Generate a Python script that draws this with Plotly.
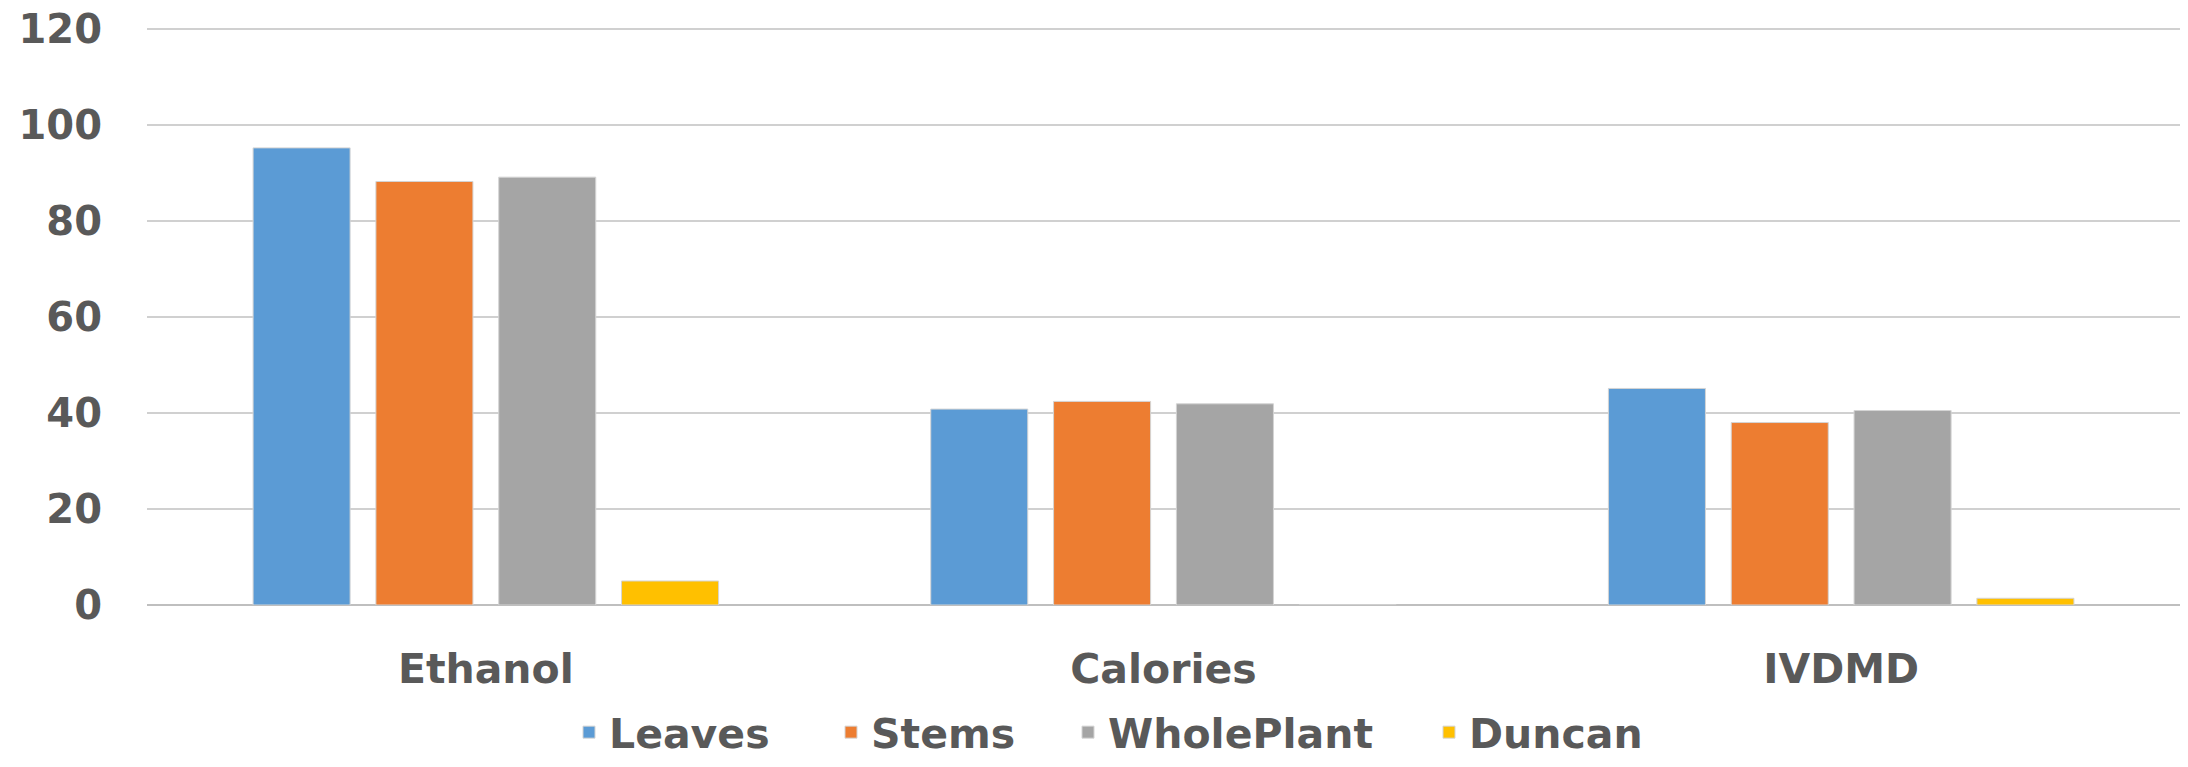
import plotly.graph_objects as go

# Category groups and per-series values
categories = ["Ethanol", "Calories", "IVDMD"]
leaves = [95.2, 40.8, 45.1]
stems = [88.2, 42.4, 38.0]
whole_plant = [89.1, 41.9, 40.5]
duncan = [5.0, 0.0, 1.4]

series = [
    ("Leaves", leaves, "#5B9BD5"),
    ("Stems", stems, "#ED7D31"),
    ("WholePlant", whole_plant, "#A5A5A5"),
    ("Duncan", duncan, "#FFC000"),
]

y_ticks = [0, 20, 40, 60, 80, 100, 120]

FONT = "DejaVu Sans"
TEXT = "#595959"

W, H = 2188, 767
M_L, M_R, M_T, M_B = 147, 8, 24, 162
plot_w = W - M_L - M_R
plot_h = H - M_T - M_B

# one legend per series so each entry sits at its own spot along the bottom row
entry_text_left = [610, 872, 1109, 1470]
legend_names = ["legend", "legend2", "legend3", "legend4"]
legend_bottom_y = (H - M_B - (H - 1)) / plot_h

fig = go.Figure()
for (name, vals, color), lg in zip(series, legend_names):
    fig.add_trace(go.Bar(
        name=name,
        x=categories,
        y=vals,
        legend=lg,
        marker=dict(color=color, line=dict(color="#d4d4d4", width=1)),
    ))

legend_style = dict(
    orientation="h",
    xanchor="left",
    yanchor="bottom",
    bgcolor="rgba(0,0,0,0)",
    font=dict(family=FONT, size=41, color=TEXT, weight="bold"),
    itemclick=False,
    itemdoubleclick=False,
)
legends = {}
for lg, tx in zip(legend_names, entry_text_left):
    legends[lg] = dict(legend_style, x=(tx - 41 - M_L) / plot_w, y=legend_bottom_y)

fig.update_layout(
    width=W,
    height=H,
    margin=dict(l=M_L, r=M_R, t=M_T, b=M_B, autoexpand=False),
    paper_bgcolor="white",
    plot_bgcolor="white",
    barmode="group",
    bargap=0.275,
    bargroupgap=0.21,
    font=dict(family=FONT, color=TEXT),
    showlegend=True,
    **legends,
)

fig.update_xaxes(
    showgrid=False,
    showline=False,
    zeroline=False,
    ticks="",
    ticklabelstandoff=36,
    tickfont=dict(family=FONT, size=41, color=TEXT, weight="bold"),
)

fig.update_yaxes(
    range=[0, 121],
    tickvals=y_ticks,
    ticktext=[str(v) for v in y_ticks],
    showgrid=True,
    gridcolor="#d0d0d0",
    gridwidth=2,
    zeroline=True,
    zerolinecolor="#bfbfbf",
    zerolinewidth=2,
    showline=False,
    ticks="",
    ticklabelstandoff=44,
    tickfont=dict(family=FONT, size=40, color=TEXT, weight="bold"),
)

fig.write_html("out.html")
